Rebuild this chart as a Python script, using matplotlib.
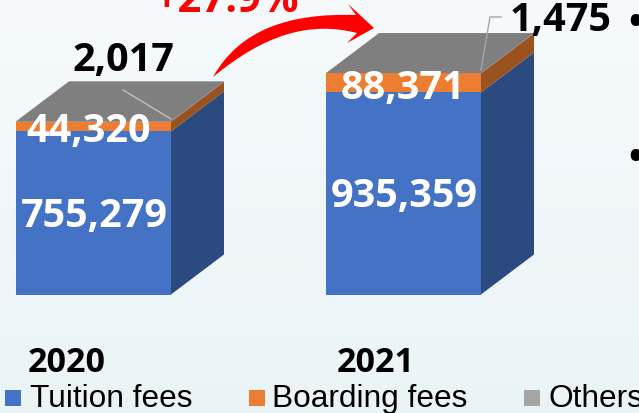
#coding: utf_8
import numpy as np
import matplotlib.pyplot as plt
from matplotlib.patches import Polygon, PathPatch, Rectangle
from matplotlib.path import Path

years = ['2020', '2021']
tuition = [755279, 935359]
boarding = [44320, 88371]
others = [2017, 1475]
legend_names = ['Tuition fees', 'Boarding fees', 'Others']
growth = '+27.9%'

W, H = 639, 414
fig = plt.figure(figsize=(W / 100, H / 100), dpi=100)
ax = fig.add_axes([0, 0, 1, 1])

# axes span the whole picture, 1 category = 310 px, 1 px = 1/0.216 k
px_per_cat = 310.0
px_per_val = 0.216 / 1000
ax.axis('off')

# background
grad = np.linspace(0, 1, 64).reshape(-1, 1)
top = np.array([0.965, 0.98, 0.988])
bot = np.array([0.918, 0.957, 0.969])
img = top + (bot - top) * grad[..., None]
ax.imshow(img, extent=[0, 1, 0, 1], transform=ax.transAxes, aspect='auto', zorder=0)
ax.set_xlim(-93.5 / px_per_cat, (W - 93.5) / px_per_cat)
ax.set_ylim(-(H - 295.5) / px_per_val, 295.5 / px_per_val)

def px(x, y):
	return (x / W, 1 - y / H)

def block(x, y0, y1, front, side, top_col, w=0.25):
	dx = 53 / px_per_cat
	dy = 40 / px_per_val
	ax.add_patch(Polygon([(x - w, y0), (x + w, y0), (x + w, y1), (x - w, y1)], fc=front, ec='none', zorder=3))
	ax.add_patch(Polygon([(x + w, y0), (x + w + dx, y0 + dy), (x + w + dx, y1 + dy), (x + w, y1)], fc=side, ec='none', zorder=2))
	if top_col:
		ax.add_patch(Polygon([(x - w, y1), (x + w, y1), (x + w + dx, y1 + dy), (x - w + dx, y1 + dy)], fc=top_col, ec='none', zorder=4))

for i in range(2):
	b1 = tuition[i]
	b2 = b1 + boarding[i]
	b3 = b2 + others[i]
	block(i, 0, b1, '#4472C4', '#2B4A80', None)
	block(i, b1, b2, '#ED7D31', '#9A531F', None)
	block(i, b2, b3, '#A5A5A5', '#6B6B6B', '#7F7F7F')

lab = dict(family='Open Sans', fontweight='bold', ha='center', va='center', transform=fig.transFigure, zorder=6)
fig.text(*px(94, 217), f'{tuition[0]:,}', color='white', fontsize=28.5, **lab)
fig.text(*px(404, 197), f'{tuition[1]:,}', color='white', fontsize=28.5, **lab)
fig.text(*px(89, 132), f'{boarding[0]:,}', color='white', fontsize=28.5, **lab)
fig.text(*px(403, 88), f'{boarding[1]:,}', color='white', fontsize=28.5, **lab)
fig.text(*px(123, 60), f'{others[0]:,}', color='black', fontsize=28.5, **lab)
fig.text(*px(561, 21), f'{others[1]:,}', color='black', fontsize=28.5, **lab)
fig.text(*px(226, 1), growth, color='#FF0000', fontsize=30, **lab)
fig.text(*px(67, 363), years[0], color='black', fontsize=24.5, **lab)
fig.text(*px(376, 363), years[1], color='black', fontsize=24.5, **lab)
fig.text(*px(635, 24), '•', color='black', fontsize=27, **lab)
fig.text(*px(635, 159), '•', color='black', fontsize=27, **lab)

# leader lines
ax.plot(*zip(px(123, 91), px(171, 120)), transform=ax.transAxes, color='#BFBFBF', lw=1, zorder=5)
ax.plot(*zip(px(481, 71), px(490, 18), px(501, 18)), transform=ax.transAxes, color='#A6A6A6', lw=1, zorder=5)

# growth arrow
verts = [px(213, 78), px(240, 30), px(290, 14), px(356, 16), px(348, 5), px(374, 29), px(347, 44),
	px(357, 34), px(310, 22), px(265, 35), px(213, 78), px(213, 78)]
codes = [Path.MOVETO, Path.CURVE4, Path.CURVE4, Path.CURVE4, Path.LINETO, Path.LINETO, Path.LINETO,
	Path.LINETO, Path.CURVE4, Path.CURVE4, Path.CURVE4, Path.CLOSEPOLY]
ax.add_patch(PathPatch(Path(verts, codes), fc='#FF0000', ec='none', transform=ax.transAxes, zorder=5))

# legend
leg_cols = ['#4472C4', '#ED7D31', '#A5A5A5']
leg_sq = [5, 249, 524]
leg_tx = [30, 272, 548]
for c, sx, tx, name in zip(leg_cols, leg_sq, leg_tx, legend_names):
	ax.add_patch(Rectangle(px(sx, 407), 16 / W, 16 / H, fc=c, ec='none', transform=ax.transAxes, zorder=5))
	fig.text(*px(tx, 399), name, family='Liberation Sans', fontsize=22.8, color='black', ha='left', va='center')

fig.savefig('out.png', dpi=100)
